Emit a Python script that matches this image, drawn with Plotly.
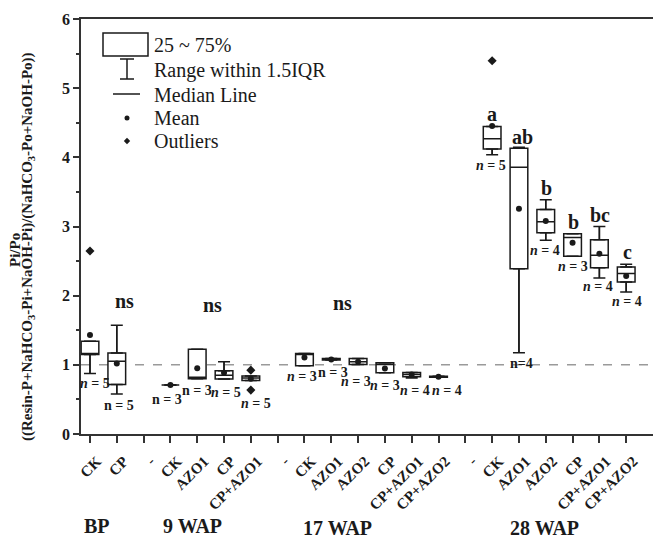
import plotly.graph_objects as go

# ---------------- data ----------------
tick_positions = list(range(1, 22))
tick_labels = ["CK", "CP",
               "-", "CK", "AZO1", "CP", "CP+AZO1",
               "-", "CK", "AZO1", "AZO2", "CP", "CP+AZO1", "CP+AZO2",
               "-", "CK", "AZO1", "AZO2", "CP", "CP+AZO1", "CP+AZO2"]

box_pos = [1, 2, 4, 5, 6, 7, 9, 10, 11, 12, 13, 14, 16, 17, 18, 19, 20, 21]
q1 =     [1.15, 0.717, 0.707, 0.80, 0.794, 0.775, 0.985, 1.070, 1.006, 0.885, 0.827, 0.820, 4.122, 2.390, 2.910, 2.570, 2.405, 2.198]
median = [1.15, 1.053, 0.707, 0.82, 0.850, 0.810, 1.160, 1.078, 1.044, 1.006, 0.861, 0.827, 4.267, 3.857, 3.067, 2.840, 2.583, 2.319]
q3 =     [1.34, 1.170, 0.707, 1.226, 0.913, 0.840, 1.164, 1.090, 1.092, 1.030, 0.890, 0.835, 4.444, 4.132, 3.247, 2.896, 2.810, 2.414]
lower =  [0.876, 0.577, 0.707, 0.80, 0.794, 0.775, 0.985, 1.070, 1.006, 0.885, 0.810, 0.820, 4.036, 1.173, 2.800, 2.570, 2.255, 2.053]
upper =  [1.34, 1.573, 0.707, 1.226, 1.043, 0.840, 1.164, 1.090, 1.092, 1.030, 0.890, 0.835, 4.444, 4.146, 3.386, 2.896, 3.000, 2.453]
means =  [1.43, 1.020, 0.707, 0.95, 0.885, 0.800, 1.107, 1.078, 1.045, 0.948, 0.861, 0.827, 4.454, 3.257, 3.080, 2.766, 2.607, 2.284]

outlier_pos = [1, 7, 7, 16]
outlier_val = [2.645, 0.923, 0.635, 5.397]

n_text = ["n = 5", "n = 5", "n = 3", "n = 3", "n = 5", "n = 5",
          "n = 3", "n = 3", "n = 3", "n = 3", "n = 4", "n = 4",
          "n = 5", "n=4", "n = 4", "n = 3", "n = 4", "n = 4"]
n_italic = [True, False, False, False, True, True,
            True, False, True, True, True, True,
            True, False, True, True, True, True]
n_x = [1.19, 2.08, 3.87, 4.98, 6.07, 7.18, 8.90, 10.05, 10.94, 12.02, 13.14, 14.30,
       15.97, 17.09, 17.98, 19.03, 19.96, 21.04]
n_y = [0.736, 0.418, 0.505, 0.635, 0.606, 0.447, 0.837, 0.895, 0.765, 0.707, 0.635, 0.635,
       3.88, 1.02, 2.655, 2.42, 2.135, 1.92]

sig_text = ["ns", "ns", "ns", "a", "ab", "b", "b", "bc", "c"]
sig_x = [2.30, 5.58, 10.42, 16.0, 17.13, 18.02, 19.03, 20.03, 21.04]
sig_y = [1.92, 1.86, 1.90, 4.62, 4.30, 3.55, 3.06, 3.16, 2.63]

group_text = ["BP", "9 WAP", "17 WAP", "28 WAP"]
group_x = [1.26, 4.84, 10.24, 17.95]

REF_LINE = 1

# ---------------- layout helpers ----------------
W, H = 653, 538
L, R, T, B = 81, 0, 19, 104
PW, PH = W - L - R, H - T - B
FONT = "Liberation Serif"
INK = "#1a1a1a"


def px(xp):
    return (xp - L) / PW


def py(yp):
    return (H - B - yp) / PH


fig = go.Figure()

# whiskers with caps (upper and lower)
fig.add_trace(go.Scatter(
    x=box_pos, y=q3, mode="markers",
    marker=dict(size=1, color="rgba(0,0,0,0)"),
    error_y=dict(type="data", symmetric=False,
                 array=[u - q for u, q in zip(upper, q3)],
                 arrayminus=[0] * len(q3),
                 color=INK, thickness=1.5, width=6),
    showlegend=False, hoverinfo="skip"))
fig.add_trace(go.Scatter(
    x=box_pos, y=q1, mode="markers",
    marker=dict(size=1, color="rgba(0,0,0,0)"),
    error_y=dict(type="data", symmetric=False,
                 array=[0] * len(q1),
                 arrayminus=[q - lo for q, lo in zip(q1, lower)],
                 color=INK, thickness=1.5, width=6),
    showlegend=False, hoverinfo="skip"))

# boxes
fig.add_trace(go.Box(
    x=box_pos, q1=q1, median=median, q3=q3,
    lowerfence=lower, upperfence=upper,
    fillcolor="white", line=dict(color=INK, width=1.5),
    width=0.66, boxpoints=False, whiskerwidth=0,
    showlegend=False, hoverinfo="skip"))

# means
fig.add_trace(go.Scatter(
    x=box_pos, y=means, mode="markers",
    marker=dict(symbol="circle", size=6, color=INK),
    showlegend=False, hoverinfo="skip"))

# outliers
fig.add_trace(go.Scatter(
    x=outlier_pos, y=outlier_val, mode="markers",
    marker=dict(symbol="diamond", size=7, color=INK),
    showlegend=False, hoverinfo="skip"))

# reference dashed line
fig.add_shape(type="line", xref="paper", x0=0, x1=1, yref="y", y0=REF_LINE, y1=REF_LINE,
              line=dict(color="#9a9a9a", width=1.5, dash="dash"), layer="below")

annotations = []
for t, it, x, y in zip(n_text, n_italic, n_x, n_y):
    txt = t.replace("n", "<i>n</i>", 1) if it else t
    annotations.append(dict(x=x, y=y, xref="x", yref="y", text="<b>" + txt + "</b>",
                            xanchor="center", yanchor="middle",
                            showarrow=False, font=dict(family=FONT, size=14, color=INK)))
for t, x, y in zip(sig_text, sig_x, sig_y):
    annotations.append(dict(x=x, y=y, xref="x", yref="y", text="<b>" + t + "</b>",
                            xanchor="center", yanchor="middle",
                            showarrow=False, font=dict(family=FONT, size=20, color=INK)))
for i, (t, x) in enumerate(zip(group_text, group_x)):
    yy = 526 if i < 2 else 528
    annotations.append(dict(x=x, y=py(yy), xref="x", yref="paper", text="<b>" + t + "</b>",
                            xanchor="center", yanchor="middle",
                            showarrow=False, font=dict(family=FONT, size=20, color=INK)))

# y-axis title (two lines)
annotations.append(dict(x=px(15), y=py(250), xref="paper", yref="paper", text="<b>Pi/Po</b>",
                        xanchor="center", yanchor="middle",
                        textangle=-90, showarrow=False, font=dict(family=FONT, size=15, color=INK)))
annotations.append(dict(x=px(28), y=py(247), xref="paper", yref="paper",
                        text="<b>((Resin-P+NaHCO<sub>3</sub>-Pi+NaOH-Pi)/(NaHCO<sub>3</sub>-Po+NaOH-Po))</b>",
                        xanchor="center", yanchor="middle",
                        textangle=-90, showarrow=False, font=dict(family=FONT, size=15, color=INK)))

# legend (drawn manually)
legend_items = ["25 ~ 75%", "Range within 1.5IQR", "Median Line", "Mean", "Outliers"]
legend_y = [45, 70, 95, 118, 141]
for t, yy in zip(legend_items, legend_y):
    annotations.append(dict(x=px(152), y=py(yy), xref="paper", yref="paper", text=t,
                            xanchor="left", yanchor="middle", showarrow=False,
                            font=dict(family=FONT, size=20, color=INK)))

shapes = []
lw = dict(color=INK, width=1.5)
shapes.append(dict(type="rect", xref="paper", yref="paper", x0=px(103), x1=px(148),
                   y0=py(56), y1=py(33), line=lw))
shapes.append(dict(type="line", xref="paper", yref="paper", x0=px(127), x1=px(127),
                   y0=py(79), y1=py(59), line=lw))
shapes.append(dict(type="line", xref="paper", yref="paper", x0=px(120), x1=px(134),
                   y0=py(59), y1=py(59), line=lw))
shapes.append(dict(type="line", xref="paper", yref="paper", x0=px(120), x1=px(134),
                   y0=py(79), y1=py(79), line=lw))
shapes.append(dict(type="line", xref="paper", yref="paper", x0=px(113), x1=px(140),
                   y0=py(94), y1=py(94), line=lw))
shapes.append(dict(type="circle", xref="paper", yref="paper", x0=px(124.5), x1=px(129.5),
                   y0=py(120.5), y1=py(115.5), fillcolor=INK, line=dict(color=INK, width=0)))
d = 3.2
shapes.append(dict(type="path", xref="paper", yref="paper",
                   path=f"M {px(127)} {py(141 - d)} L {px(127 + d)} {py(141)} L {px(127)} {py(141 + d)} L {px(127 - d)} {py(141)} Z",
                   fillcolor=INK, line=dict(color=INK, width=0)))

fig.update_layout(
    width=W, height=H,
    margin=dict(l=L, r=R, t=T, b=B, pad=0),
    plot_bgcolor="white", paper_bgcolor="white",
    font=dict(family=FONT, color=INK),
    annotations=annotations,
    shapes=fig.layout.shapes + tuple(shapes),
    xaxis=dict(range=[0.665, 22.0], tickmode="array", tickvals=tick_positions, ticktext=tick_labels,
               tickangle=-45, ticks="outside", ticklen=7, tickwidth=1.5, tickcolor="#333",
               ticklabelshift=7, ticklabelstandoff=4,
               showline=True, linewidth=1.5, linecolor="#333", mirror=True,
               showgrid=False, zeroline=False,
               tickfont=dict(family=FONT, size=15, color=INK, weight="bold")),
    yaxis=dict(range=[0, 6], dtick=1, ticks="outside", ticklen=6, tickwidth=1.5, tickcolor="#333",
               minor=dict(dtick=0.5, ticks="outside", ticklen=3, tickwidth=1.5, tickcolor="#333"),
               showline=True, linewidth=1.5, linecolor="#333",
               showgrid=False, zeroline=False,
               tickfont=dict(family=FONT, size=16, color=INK, weight="bold")),
    showlegend=False,
)

fig.write_html("out.html")
